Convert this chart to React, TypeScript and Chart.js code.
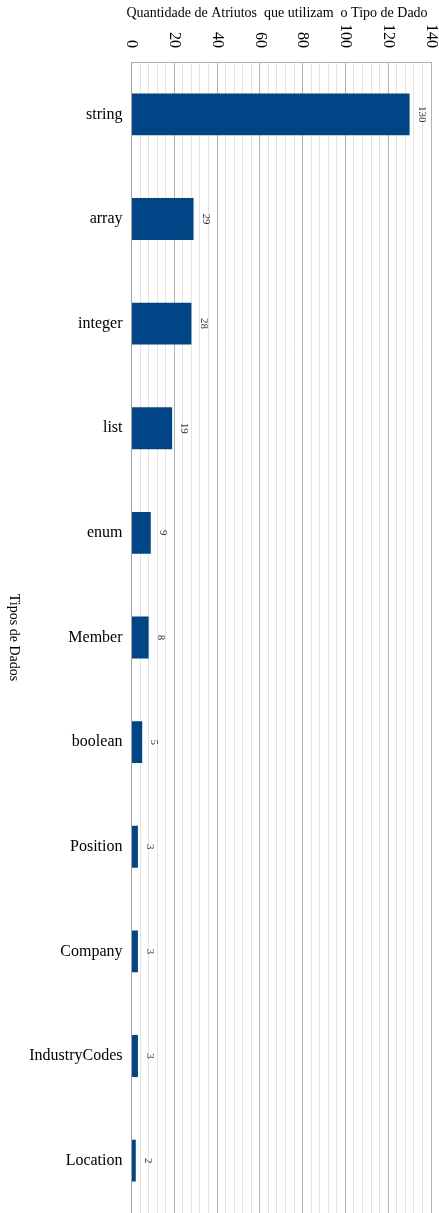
import { useEffect, useRef } from 'react';
import { Chart, registerables } from 'chart.js';

Chart.register(...registerables);

const categories = ['string', 'array', 'integer', 'list', 'enum', 'Member', 'boolean', 'Position', 'Company', 'IndustryCodes', 'Location'];
const values = [130, 29, 28, 19, 9, 8, 5, 3, 3, 3, 2];
const tickValues = [0, 20, 40, 60, 80, 100, 120, 140];
const xTitle = 'Quantidade de Atriutos  que utilizam  o Tipo de Dado';
const yTitle = 'Tipos de Dados';

const FONT = '"Liberation Serif", "Times New Roman", serif';
const W = 439;
const H = 1213;

const decorPlugin = {
  id: 'decor',
  afterDraw(chart: any) {
    const ctx = chart.ctx;
    const area = chart.chartArea;
    const xs = chart.scales.x;
    ctx.save();
    // top tick labels, rotated clockwise
    ctx.fillStyle = '#000';
    ctx.font = `16px ${FONT}`;
    ctx.textAlign = 'right';
    ctx.textBaseline = 'middle';
    tickValues.forEach((v) => {
      const x = xs.getPixelForValue(v);
      ctx.save();
      ctx.translate(x, area.top - 14);
      ctx.rotate(Math.PI / 2);
      ctx.fillText(String(v), 0, 0);
      ctx.restore();
    });
    // x axis title
    ctx.font = `14px ${FONT}`;
    ctx.textAlign = 'center';
    ctx.textBaseline = 'middle';
    ctx.fillText(xTitle, 277, 13);
    // y axis title rotated clockwise
    ctx.font = `14px ${FONT}`;
    ctx.save();
    ctx.translate(14, (area.top + area.bottom) / 2);
    ctx.rotate(Math.PI / 2);
    ctx.fillText(yTitle, 0, 0);
    ctx.restore();
    // data labels
    ctx.fillStyle = '#333';
    ctx.font = `11px ${FONT}`;
    const meta = chart.getDatasetMeta(0);
    meta.data.forEach((bar: any, i: number) => {
      ctx.save();
      ctx.translate(bar.x + 12, bar.y);
      ctx.rotate(Math.PI / 2);
      ctx.textAlign = 'center';
      ctx.textBaseline = 'middle';
      ctx.fillText(String(values[i]), 0, 0);
      ctx.restore();
    });
    ctx.restore();
  },
};

export default function App() {
  const ref = useRef<HTMLCanvasElement>(null);
  useEffect(() => {
    document.body.style.margin = '0';
    const chart = new Chart(ref.current!, {
      type: 'bar',
      data: {
        labels: categories,
        datasets: [
          {
            data: values,
            backgroundColor: '#004586',
            borderWidth: 0,
            barPercentage: 0.4,
            categoryPercentage: 1,
          },
        ],
      },
      options: {
        indexAxis: 'y',
        responsive: false,
        animation: false,
        devicePixelRatio: 1,
        layout: { padding: { left: 0, right: 8, top: 0, bottom: 0 } },
        plugins: { legend: { display: false }, tooltip: { enabled: false } },
        scales: {
          x: {
            position: 'top',
            min: 0,
            max: 140,
            ticks: { stepSize: 4, display: false },
            grid: {
              drawTicks: false,
              color: (c: any) => (c.tick && c.tick.value % 20 === 0 ? '#b3b3b3' : '#e3e3e3'),
            },
            border: { display: true, color: '#b3b3b3' },
            afterFit: (s: any) => {
              s.height = 62;
              s.paddingLeft = 0;
              s.paddingRight = 0;
            },
          },
          y: {
            grid: { display: false, drawTicks: false },
            border: { display: true, color: '#a0a0a0' },
            ticks: {
              color: '#000',
              padding: 9,
              font: { family: FONT, size: 16 },
            },
            afterFit: (s: any) => {
              s.width = 131.5;
              s.paddingTop = 0;
              s.paddingBottom = 0;
            },
          },
        },
      },
      plugins: [decorPlugin],
    } as any);
    return () => chart.destroy();
  }, []);
  return (
    <div style={{ position: 'absolute', left: 0, top: 0, width: W, height: H }}>
      <canvas ref={ref} width={W} height={H} style={{ display: 'block' }} />
    </div>
  );
}
